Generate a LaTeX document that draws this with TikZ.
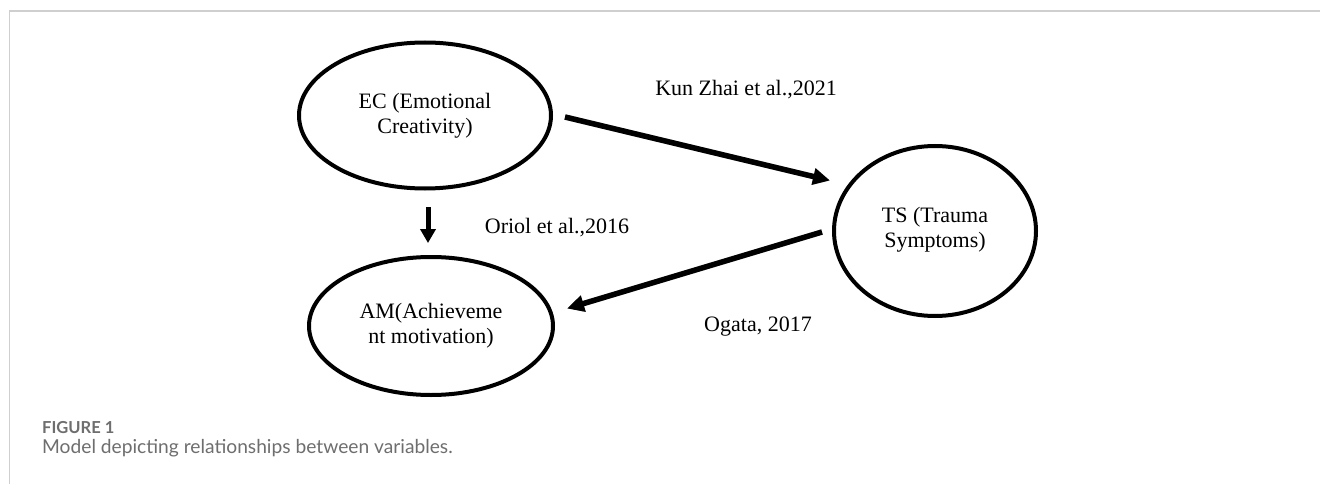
\documentclass[tikz,border=0pt]{standalone}
\usepackage{fontspec}
\setmainfont{Liberation Serif}
\newfontfamily\capfont{Lato}
\usetikzlibrary{shapes.geometric,arrows.meta}
\definecolor{framegray}{HTML}{CFCFCF}
\definecolor{capgray}{HTML}{6E6E6E}
\tikzset{
  varnode/.style={ellipse,draw=black,line width=4pt,inner sep=0pt,align=center,
    font=\fontsize{22}{25}\selectfont},
  lbl/.style={font=\fontsize{22}{25}\selectfont,inner sep=0pt},
  bigarrow/.style={line width=5.5pt,-{Triangle[length=17pt,width=16pt]}},
  smallarrow/.style={line width=5pt,-{Triangle[length=14pt,width=15pt]}},
  shadowed/.style={black!22,xshift=1.5pt,yshift=-2pt},
  framestyle/.style={draw=framegray,line width=1.6pt}
}
\begin{document}
\begin{tikzpicture}[x=1pt,y=-1pt]
\useasboundingbox (0,0) rectangle (1320,484);
\fill[white] (0,0) rectangle (1320,484);
% frame
\coordinate (fA) at (9.5,484);
\coordinate (fB) at (9.5,11);
\coordinate (fC) at (1320,11);
\draw[framestyle] (fA) -- (fB) -- (fC);
% nodes
\node[varnode,minimum width=252pt,minimum height=146pt] (ec) at (425,115.5) {EC (Emotional\\Creativity)};
\node[varnode,minimum width=244pt,minimum height=138pt] (am) at (431,326) {AM(Achieveme\\nt motivation)};
\node[varnode,minimum width=202pt,minimum height=170pt] (ts) at (935,231) {TS (Trauma\\Symptoms)\\[-17pt]};
% connector ends
\coordinate (a1s) at (565,117);
\coordinate (a1e) at (830,180.5);
\coordinate (a2s) at (822,232);
\coordinate (a2e) at (567,308.5);
\coordinate (a3s) at (428,207);
\coordinate (a3e) at (428,243);
% shadows
\draw[bigarrow,shadowed] (a1s) -- (a1e);
\draw[bigarrow,shadowed] (a2s) -- (a2e);
\draw[smallarrow,shadowed] (a3s) -- (a3e);
% arrows
\draw[bigarrow] (a1s) -- (a1e);
\draw[bigarrow] (a2s) -- (a2e);
\draw[smallarrow] (a3s) -- (a3e);
% labels
\node[lbl] (l1) at (746,90) {Kun Zhai et al.,2021};
\node[lbl] (l2) at (557,228) {Oriol et al.,2016};
\node[lbl] (l3) at (758,327) {Ogata, 2017};
% caption
\node[anchor=base west,inner sep=0pt,text=capgray,font=\capfont\bfseries\fontsize{16.5}{20}\selectfont] (cap1) at (42,433) {FIGURE 1};
\node[anchor=base west,inner sep=0pt,text=capgray,font=\capfont\fontsize{19.2}{23}\selectfont] (cap2) at (42,453) {Model depicting relationships between variables.};
\end{tikzpicture}
\end{document}
